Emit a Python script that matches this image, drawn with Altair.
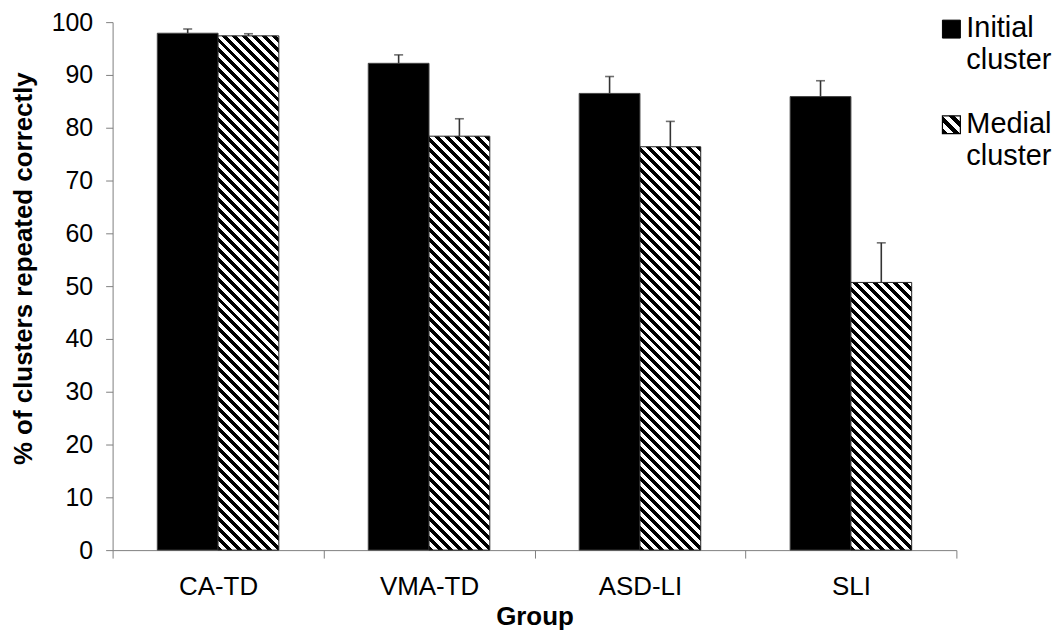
import altair as alt
import pandas as pd

groups = ["CA-TD", "VMA-TD", "ASD-LI", "SLI"]
series = ["Initial cluster", "Medial cluster"]
initial = [97.9, 92.2, 86.5, 85.9]
initial_err = [0.8, 1.6, 3.2, 3.0]
medial = [97.4, 78.4, 76.4, 50.7]
medial_err = [0.4, 3.3, 4.8, 7.5]
legend_text = ["Initial\ncluster", "Medial\ncluster"]

W, H = 847, 530
PX = H / 100.0
PAD_OUT = 0.7357
BAR_W = (W / len(groups)) / (2 + 2 * PAD_OUT)

rows = []
for g, v, e in zip(groups, initial, initial_err):
    rows.append({"group": g, "series": series[0], "value": v, "upper": v + e})
for g, v, e in zip(groups, medial, medial_err):
    rows.append({"group": g, "series": series[1], "value": v, "upper": v + e})
df = pd.DataFrame(rows)


def hatch(w, h, period=10.0):
    L = w + h
    k = L / (w * w + h * h)
    stops = []
    i = 0
    while i * period < L:
        a = i * period / L
        b = min((i + 0.5) * period / L, 1.0)
        c = min((i + 1) * period / L, 1.0)
        stops += [
            {"offset": a, "color": "black"},
            {"offset": b, "color": "black"},
            {"offset": b, "color": "white"},
            {"offset": c, "color": "white"},
        ]
        i += 1
    return {"gradient": "linear", "x1": 0, "y1": 1, "x2": k * w, "y2": 1 - k * h, "stops": stops}


x_enc = alt.X(
    "group:N",
    sort=groups,
    scale=alt.Scale(domain=groups, paddingInner=0, paddingOuter=0),
    axis=alt.Axis(
        title="Group", labelAngle=0, labelFontSize=26, titleFontSize=26, titleFontWeight="bold",
        tickSize=8, labelPadding=16, titlePadding=4, domainColor="#808080", tickColor="#808080",
        labelColor="black", titleColor="black", tickBand="extent", grid=False,
    ),
)
xo_enc = alt.XOffset(
    "series:N", sort=series,
    scale=alt.Scale(domain=series, paddingInner=0, paddingOuter=PAD_OUT),
)
y_scale = alt.Scale(domain=[0, 100], nice=False)
y_axis = alt.Axis(
    title="% of clusters repeated correctly", values=list(range(0, 101, 10)),
    labelFontSize=25, titleFontSize=26, titleFontWeight="bold", tickSize=7,
    labelPadding=13, titlePadding=15, domainColor="#808080", tickColor="#808080",
    labelColor="black", titleColor="black", grid=False, titleY=247,
)

base = alt.Chart(df)

black_bars = base.transform_filter(alt.datum.series == series[0]).mark_bar(
    fill="black", stroke="#444444", strokeWidth=1
).encode(x=x_enc, xOffset=xo_enc, y=alt.Y("value:Q", scale=y_scale, axis=y_axis))

layers = [black_bars]
for g, v in zip(groups, medial):
    layers.append(
        base.transform_filter(
            (alt.datum.series == series[1]) & (alt.datum.group == g)
        ).mark_bar(fill=hatch(BAR_W, v * PX), stroke="#222222", strokeWidth=1).encode(
            x=x_enc, xOffset=xo_enc, y=alt.Y("value:Q", scale=y_scale, axis=y_axis)
        )
    )

err_rule = base.mark_rule(color="#333333", strokeWidth=1.6).encode(
    x=x_enc, xOffset=xo_enc, y=alt.Y("value:Q", scale=y_scale, axis=y_axis), y2="upper:Q"
)
err_cap = base.mark_tick(color="#333333", thickness=1.6, size=9).encode(
    x=x_enc, xOffset=xo_enc, y=alt.Y("upper:Q", scale=y_scale, axis=y_axis)
)
layers += [err_rule, err_cap]

# legend
leg1 = pd.DataFrame({"label": [legend_text[0]]})
leg2 = pd.DataFrame({"label": [legend_text[1]]})
sq1 = alt.Chart(leg1).mark_square(size=324, fill="black", stroke="black", strokeWidth=1, opacity=1).encode(
    x=alt.value(842), y=alt.value(7)
)
sq2 = alt.Chart(leg2).mark_square(
    size=324, fill=hatch(18, 18, period=12.0), stroke="black", strokeWidth=1.2, opacity=1
).encode(x=alt.value(842), y=alt.value(103))
tx1 = alt.Chart(leg1).mark_text(
    align="left", baseline="alphabetic", fontSize=29, lineBreak="\n", lineHeight=32, color="black"
).encode(x=alt.value(857), y=alt.value(15), text="label:N")
tx2 = alt.Chart(leg2).mark_text(
    align="left", baseline="alphabetic", fontSize=29, lineBreak="\n", lineHeight=32, color="black"
).encode(x=alt.value(857), y=alt.value(111), text="label:N")
layers += [sq1, sq2, tx1, tx2]

chart = alt.layer(*layers).properties(
    width=W, height=H,
    autosize=alt.AutoSizeParams(type="none"),
    padding={"left": 105, "top": 13, "right": 100, "bottom": 80},
).configure(font="Liberation Sans").configure_view(stroke=None)

chart.save("out.html", embed_options={"renderer": "svg", "actions": False})
